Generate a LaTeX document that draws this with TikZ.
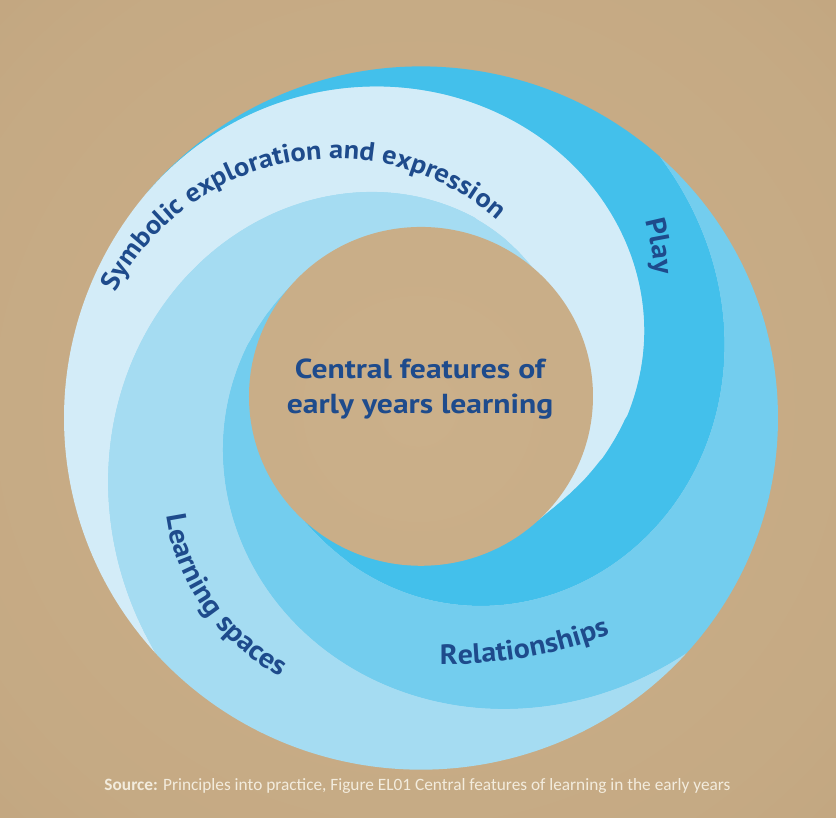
\documentclass[tikz,border=0pt]{standalone}
\usepackage{fontspec}
\setmainfont{PT Sans}
\newfontfamily\labfam[FakeStretch=1.07]{PT Sans}
\newfontfamily\cenfam[FakeStretch=1.15]{PT Sans}
\newfontfamily\capfont{Carlito}
\usetikzlibrary{decorations.text}
\definecolor{paperin}{HTML}{CBB08A}
\definecolor{paperout}{HTML}{B39670}
\definecolor{palebl}{HTML}{D3ECF8}
\definecolor{lightbl}{HTML}{A5DCF2}
\definecolor{medbl}{HTML}{73CDEE}
\definecolor{darkbl}{HTML}{43C0EB}
\definecolor{labbl}{HTML}{1E4B8C}
\definecolor{capcol}{HTML}{F3ECDD}
\pgfdeclareradialshading{paper}{\pgfpoint{0bp}{0bp}}{color(0bp)=(paperin); color(30bp)=(paperin!75!paperout); color(72bp)=(paperout)}
\newcommand\labfont{\labfam\bfseries\fontsize{28}{30}\selectfont\color{labbl}}
\newcommand\symfont{\labfam\bfseries\fontsize{26.5}{30}\selectfont\color{labbl}}
\begin{document}
\begin{tikzpicture}[x=10pt,y=9.85pt,
  declare function={
    rh(\x)=2.2*sin(\x)+sqrt(295.84-(2.2*cos(\x))^2);
    gap(\x)=35.7-rh(\x);
    ga(\x)=pow(max((1+cos(((140-\x)/182)*180))/2,0.0001),0.82);
    gb(\x)=pow(max((140+\x)/188,0.0001),1.4);
    gc(\x)=pow(max((227+\x)/185,0.0001),1.45);
    gd(\x)=pow(max((\x-54)/168,0.0001),1.1);
    ra(\x)=rh(\x)+ga(\x)*gap(\x);
    rb(\x)=rh(\x)+gb(\x)*gap(\x);
    rc(\x)=rh(\x)+gc(\x)*gap(\x);
    rd(\x)=rh(\x)+gd(\x)*gap(\x);
  },
  bnd/.style={samples=150,smooth},
  centre/.style={font=\cenfam\bfseries\fontsize{27.5}{30}\selectfont,text=labbl,anchor=base,inner sep=0}]
\useasboundingbox (-42.1,-40.51) rectangle (41.5,42.44);
\shade[shading=paper] (-42.1,-40.51) rectangle (41.5,42.44);
% base ring
\fill[lightbl] (0,0) circle[radius=35.6];
% Symbolic exploration (pale)
\fill[palebl] (222:35.7) arc[start angle=222,end angle=140,radius=35.7]
  -- plot[bnd,domain=140:-42] (\x:{ra(\x)}) -- (0,2.2)
  -- plot[bnd,domain=54:222] (\x:{rd(\x)}) -- cycle;
% Play (dark)
\fill[darkbl] (140:35.7) arc[start angle=140,end angle=48,radius=35.7]
  -- plot[bnd,domain=48:-140] (\x:{rb(\x)}) -- (0,2.2)
  -- plot[bnd,domain=-42:140] (\x:{ra(\x)}) -- cycle;
% Relationships (medium)
\fill[medbl] (48:35.7) arc[start angle=48,end angle=-42,radius=35.7]
  -- plot[bnd,domain=-42:-227] (\x:{rc(\x)}) -- (0,2.2)
  -- plot[bnd,domain=-140:48] (\x:{rb(\x)}) -- cycle;
% Learning spaces (light)
\fill[lightbl] (-42:35.7) arc[start angle=-42,end angle=-138,radius=35.7]
  -- plot[bnd,domain=222:54] (\x:{rd(\x)}) -- (0,2.2)
  -- plot[bnd,domain=-227:-42] (\x:{rc(\x)}) -- cycle;
% hole
\begin{scope}
  \clip (0,2.2) circle[radius=17.2];
  \shade[shading=paper] (-42.1,-40.51) rectangle (41.5,42.44);
\end{scope}
% labels along paths
\path[decorate,decoration={text along path,text align=center,
  text={|\symfont|Symbolic exploration and expression}}]
  (-8.65,1.93) ++(172:24.4) arc[start angle=172,end angle=30,radius=24.4];
\path[decorate,decoration={text along path,text align=center,
  text={|\labfont|Play}}]
  (-5.0,12.89) ++(30:28.4) arc[start angle=30,end angle=-12,radius=28.4];
\path[decorate,decoration={text along path,text align=center,
  text={|\labfont|Learning spaces}}]
  (-3.95,-7.0) ++(178:21.7) arc[start angle=178,end angle=252,radius=21.7];
\path[decorate,decoration={text along path,text align=center,
  text={|\labfont|Relationships}}]
  (2.6,20.81) ++(-96:45.8) arc[start angle=-96,end angle=-64,radius=45.8];
% centre text
\node[centre] (c1) at (-0.1,4.06) {Central features of};
\node[centre] (c2) at (-0.1,0.51) {early years learning};
% caption
\node[font=\capfont\fontsize{17.3}{20}\selectfont,text=capcol,anchor=base,inner sep=0]
  (src) at (-0.35,-37.77) {\textbf{Source:} Principles into practice, Figure EL01 Central features of learning in the early years};
\end{tikzpicture}
\end{document}
